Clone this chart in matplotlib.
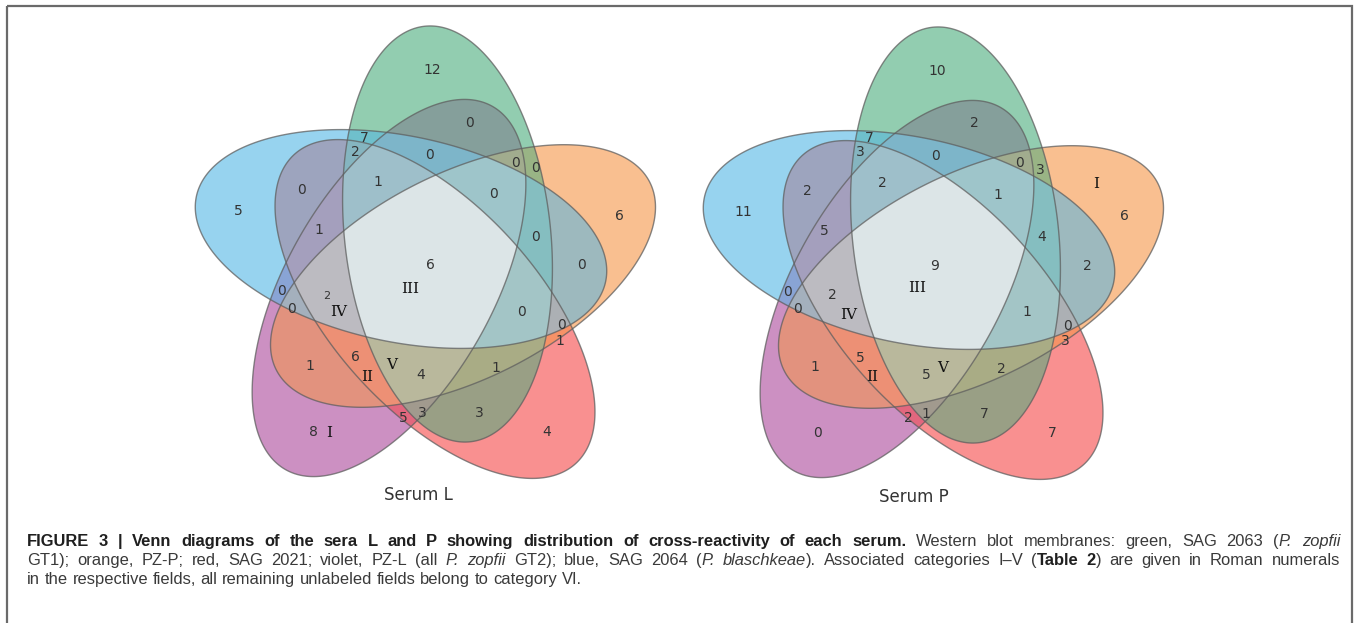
import numpy as np
import matplotlib.pyplot as plt
from itertools import combinations
from matplotlib.patches import Polygon, Rectangle
from matplotlib.font_manager import FontProperties

# ---- data ---------------------------------------------------------------
# counts per Venn field; both diagrams list the fields in the same order
counts_L = [12, 0, 7, 2, 0, 0, 0, 6, 5, 0, 1, 0, 1, 0, 0, 6,
            0, 2, 0, 0, 0, 1, 1, 6, 4, 1, 3, 3, 5, 8, 4]
counts_P = [10, 2, 7, 3, 0, 0, 3, 6, 11, 2, 2, 1, 5, 4, 2, 9,
            0, 2, 0, 1, 0, 3, 1, 5, 5, 2, 1, 7, 2, 0, 7]
# categories I-V written into some of the fields
cats_L = ["III", "IV", "V", "II", "I"]
cats_P = ["I", "III", "IV", "II", "V"]
sera = ["Serum L", "Serum P"]

# western blot membranes, drawn bottom to top
membranes = ["violet", "red", "orange", "green", "blue"]
fill_colors = ["#9b2387", "#f52323", "#f58123", "#279d63", "#31a9e1"]

# ---- layout (pixels, y downwards) ---------------------------------------
W, H = 1360, 623
SEMI_A, SEMI_B = 209, 103
# ellipse centre and tilt (deg, counter-clockwise) in the left diagram
ell_geom = {
    "violet": (389, 288, 60.3),
    "red": (435, 309, -47.7),
    "orange": (463, 276, 26.6),
    "green": (447.5, 234, 96.3),
    "blue": (401, 239, 168.3),
}
shift = [(0, 0), (508, 1)]

pos_L = [(432, 70), (469, 123), (364, 138), (355, 152), (430, 155), (516, 163),
         (535, 168), (619, 216), (238, 211), (302, 190), (378, 182), (493, 194),
         (319, 230), (536, 237), (582, 265), (430, 265), (281, 291), (327, 296),
         (292, 309), (522, 312), (562, 325), (560, 341), (310, 366), (355, 357),
         (421, 375), (496, 368), (422, 413), (479, 413), (403, 418), (313, 432),
         (547, 432)]
pos_P = [(937, 71), (974, 123), (869, 138), (860, 152), (935, 156), (1020, 163),
         (1040, 170), (1124, 216), (743, 212), (807, 191), (882, 183), (998, 195),
         (824, 231), (1042, 237), (1087, 266), (935, 266), (787, 292), (832, 295),
         (797, 309), (1027, 312), (1067, 326), (1065, 341), (815, 367), (860, 358),
         (926, 375), (1001, 369), (926, 414), (984, 414), (908, 418), (818, 433),
         (1052, 433)]
cat_pos_L = [(410, 289), (339, 312), (392, 365), (367, 377), (329, 433)]
cat_pos_P = [(1096, 184), (917, 288), (849, 315), (872, 377), (943, 368)]
serum_pos = [(418, 495), (914, 497)]


def ell_pts(cx, cy, tilt, n=720):
    t = np.linspace(0, 2 * np.pi, n, endpoint=False)
    th = np.radians(tilt)
    u, v = SEMI_A * np.cos(t), SEMI_B * np.sin(t)
    return np.column_stack([cx + u * np.cos(th) - v * np.sin(th),
                            cy - (u * np.sin(th) + v * np.cos(th))])


def ell_level(cx, cy, tilt, p):
    th = np.radians(tilt)
    dx, dy = p[:, 0] - cx, -(p[:, 1] - cy)
    u = dx * np.cos(th) + dy * np.sin(th)
    v = -dx * np.sin(th) + dy * np.cos(th)
    return (u / SEMI_A) ** 2 + (v / SEMI_B) ** 2 - 1


def overlap(gs):
    # ellipses are convex, so their common part is convex too:
    # collect boundary points lying inside all the others, sort by angle
    keep = []
    for i, g in enumerate(gs):
        p = ell_pts(*g, n=1500)
        ok = np.ones(len(p), bool)
        for j, g2 in enumerate(gs):
            if j != i:
                ok &= ell_level(*g2, p) <= 1e-9
        keep.append(p[ok])
    p = np.vstack(keep)
    c = p.mean(axis=0)
    return p[np.argsort(np.arctan2(p[:, 1] - c[1], p[:, 0] - c[0]))]


fig = plt.figure(figsize=(W / 100, H / 100), dpi=100)
ax = fig.add_axes([0, 0, 1, 1])
ax.set_xlim(0, W)
ax.set_ylim(H, 0)
ax.axis("off")

ax.add_patch(Rectangle((7, 6), 1345, 640, fill=False, ec="#6a6a6a", lw=1.6))

for k, (counts, pos, cats, cpos) in enumerate([(counts_L, pos_L, cats_L, cat_pos_L),
                                               (counts_P, pos_P, cats_P, cat_pos_P)]):
    sx, sy = shift[k]
    geoms = [(ell_geom[m][0] + sx, ell_geom[m][1] + sy, ell_geom[m][2]) for m in membranes]
    for g, c in zip(geoms, fill_colors):
        ax.add_patch(Polygon(ell_pts(*g), closed=True, fc=c, ec="none", alpha=0.5))
    # the printed diagram keeps the crowded fields light
    for pair in combinations(geoms, 2):
        ax.add_patch(Polygon(overlap(pair), closed=True, fc="white", ec="none", alpha=0.09))
    ax.add_patch(Polygon(overlap(geoms), closed=True, fc="#dce5e7", ec="none"))
    for g in geoms:
        ax.add_patch(Polygon(ell_pts(*g), closed=True, fill=False,
                             ec="#5f5f5f", lw=1.0, alpha=0.75))
    for n, (x, y) in zip(counts, pos):
        small = k == 0 and (x, y) == (327, 296)
        ax.text(x, y, str(n), ha="center", va="center", fontsize=8 if small else 10,
                color="#333333", family="DejaVu Sans")
    for c, (x, y) in zip(cats, cpos):
        ax.text(x, y, c, ha="center", va="center", fontsize=11, color="#111111",
                family="DejaVu Serif")
    ax.text(*serum_pos[k], sera[k], ha="center", va="center", fontsize=12,
            color="#333333", family="DejaVu Sans")

# ---- caption --------------------------------------------------------------
N, B, I = ("normal", "normal"), ("bold", "normal"), ("normal", "italic")
caption = [
    [("FIGURE 3 | Venn diagrams of the sera L and P showing distribution of "
      "cross-reactivity of each serum.", *B),
     (" Western blot membranes: green, SAG 2063 (", *N), ("P. zopfii", *I)],
    [("GT1); orange, PZ-P; red, SAG 2021; violet, PZ-L (all ", *N), ("P. zopfii", *I),
     (" GT2); blue, SAG 2064 (", *N), ("P. blaschkeae", *I),
     ("). Associated categories I\u2013V (", *N), ("Table 2", *B),
     (") are given in Roman numerals", *N)],
    [("in the respective fields, all remaining unlabeled fields belong to category VI.", *N)],
]
cap_base = [546, 565, 584]
x0, x1 = 27, 1340
CAP_FONT = "Liberation Sans"
renderer = fig.canvas.get_renderer()


def advance(s, size, weight, style):
    # pen advance of s, bracketed by bars so spaces and side bearings count
    fp = FontProperties(family=CAP_FONT, size=size, weight=weight, style=style)
    w1 = renderer.get_text_width_height_descent("|" + s + "|", fp, ismath=False)[0]
    w0 = renderer.get_text_width_height_descent("||", fp, ismath=False)[0]
    return w1 - w0


def tokens_of(runs):
    out, pending = [], False
    for text, weight, style in runs:
        for i, piece in enumerate(text.split(" ")):
            if i > 0:
                pending = True
            if piece:
                out.append((piece, weight, style, pending))
                pending = False
    return out


def natural(runs, size):
    return sum(advance(p, size, w, s) + (advance(" ", size, w, s) if sp else 0)
               for p, w, s, sp in tokens_of(runs))


# one size for all lines; the first two are justified to the column
probe = 11.0
size = probe * 548 / natural(caption[2], probe)

for li, runs in enumerate(caption):
    toks = tokens_of(runs)
    adv = [advance(p, size, w, s) for p, w, s, _ in toks]
    n_gaps = sum(1 for t in toks if t[3])
    gap = advance(" ", size, "normal", "normal")
    if li < 2 and n_gaps:
        gap = (x1 - x0 - sum(adv)) / n_gaps
    x = x0
    for (piece, weight, style, sp), a in zip(toks, adv):
        if sp:
            x += gap
        ax.text(x, cap_base[li], piece, fontsize=size, fontweight=weight, fontstyle=style,
                family=CAP_FONT, color="#1f1f1f" if weight == "bold" else "#3a3a3a",
                va="baseline", ha="left")
        x += a

fig.savefig("out.png", dpi=100)
